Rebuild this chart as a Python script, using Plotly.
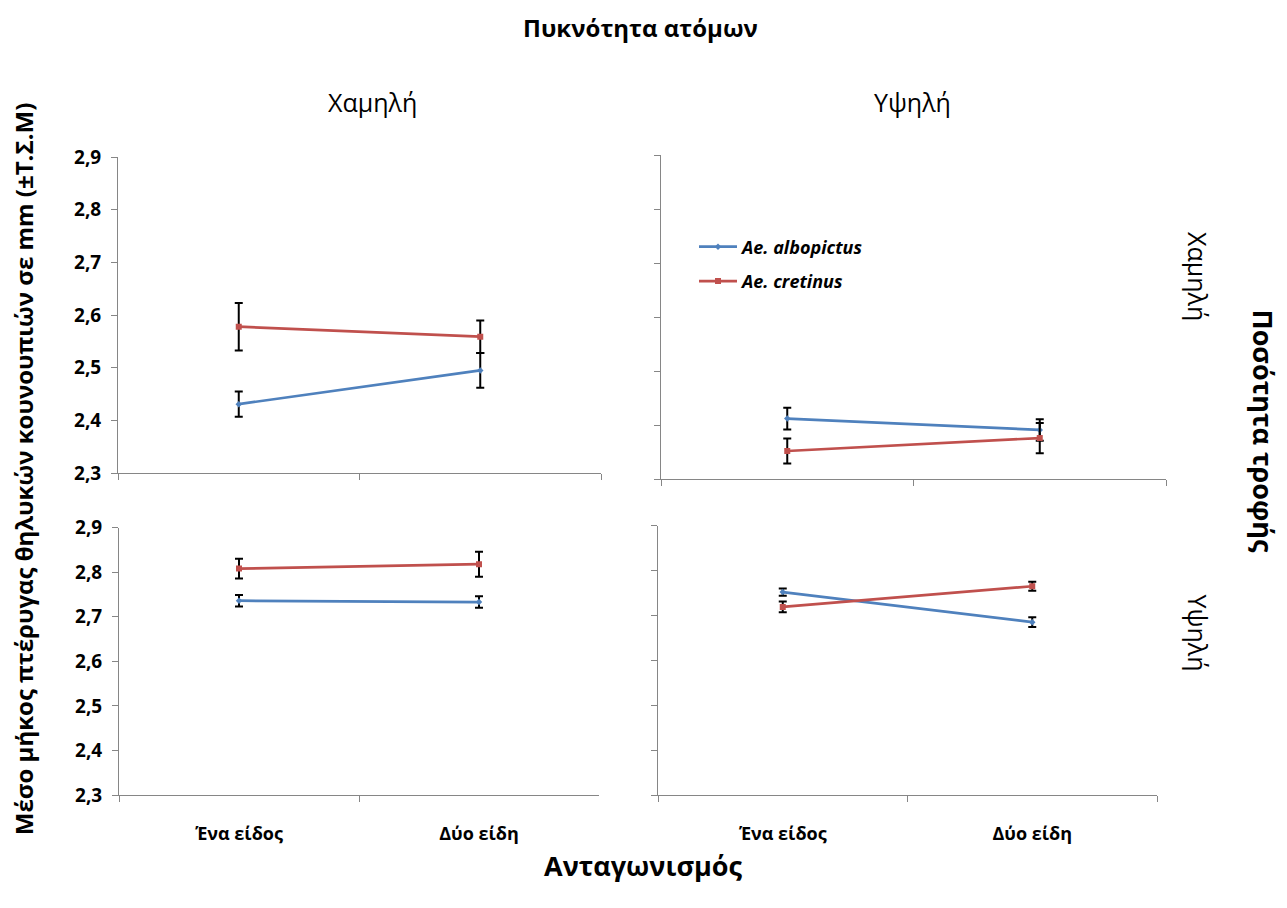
import plotly.graph_objects as go

# Competition treatment (x categories)
categories = ["Ένα είδος", "Δύο είδη"]

# Mean female wing length (mm) and SEM, per panel: (density, food)
# Panel keys: low density / low food, high density / low food,
#             low density / high food, high density / high food
albopictus_mean = {
    "LL": [2.431, 2.495],
    "HL": [2.412, 2.391],
    "LH": [2.736, 2.733],
    "HH": [2.752, 2.685],
}
albopictus_sem = {
    "LL": [0.024, 0.033],
    "HL": [0.020, 0.020],
    "LH": [0.013, 0.013],
    "HH": [0.008, 0.011],
}
cretinus_mean = {
    "LL": [2.578, 2.559],
    "HL": [2.352, 2.376],
    "LH": [2.808, 2.818],
    "HH": [2.719, 2.765],
}
cretinus_sem = {
    "LL": [0.045, 0.031],
    "HL": [0.023, 0.028],
    "LH": [0.022, 0.028],
    "HH": [0.012, 0.010],
}

y_ticks = [2.3, 2.4, 2.5, 2.6, 2.7, 2.8, 2.9]

W, H = 1287, 908
BLUE = "#4F81BD"
RED = "#C0504D"
AXIS = "#868686"
FONT = "Open Sans"

# vertical placement helper: the page is laid out slightly compressed
# vertically, so pixel targets are pre-scaled before converting to paper units
Y_SCALE, Y_OFF = 0.9806, 9.5


def fx(px):
    return px / W


def fy(py):
    design = (py - Y_OFF) / Y_SCALE
    return 1 - design / H


# panel boxes in pixels: (left, right, top, bottom)
panels = {
    "LL": ("x", "y", (118, 601, 155, 474)),
    "HL": ("x2", "y2", (661, 1166, 153, 480)),
    "LH": ("x3", "y3", (119, 599, 529, 799)),
    "HH": ("x4", "y4", (658, 1157, 527, 799)),
}

fig = go.Figure()

for key, (xa, ya, box) in panels.items():
    legend_on = key == "HL"
    fig.add_trace(go.Scatter(
        x=categories, y=albopictus_mean[key], xaxis=xa, yaxis=ya,
        mode="lines+markers", name="Ae. albopictus",
        line=dict(color=BLUE, width=2.7),
        marker=dict(symbol="diamond", size=5, color=BLUE),
        error_y=dict(type="data", array=albopictus_sem[key], color="black",
                     thickness=2, width=4),
        showlegend=legend_on, legendgroup="alb",
    ))
    fig.add_trace(go.Scatter(
        x=categories, y=cretinus_mean[key], xaxis=xa, yaxis=ya,
        mode="lines+markers", name="Ae. cretinus",
        line=dict(color=RED, width=2.7),
        marker=dict(symbol="square", size=6, color=RED),
        error_y=dict(type="data", array=cretinus_sem[key], color="black",
                     thickness=2, width=4),
        showlegend=legend_on, legendgroup="cre",
    ))

layout = dict(
    width=W, height=H,
    margin=dict(l=0, r=0, t=0, b=0),
    paper_bgcolor="white", plot_bgcolor="white",
    separators=",.",
    font=dict(family=FONT, color="black"),
    legend=dict(
        x=fx(694), y=fy(227), xanchor="left", yanchor="top",
        font=dict(family=FONT, size=18, weight="bold", style="italic", color="black"),
        bgcolor="rgba(0,0,0,0)", tracegroupgap=8, itemwidth=38,
    ),
)

for key, (xa, ya, (l, r, t, b)) in panels.items():
    xname = "xaxis" + xa[1:]
    yname = "yaxis" + ya[1:]
    bottom_row = key in ("LH", "HH")
    left_col = key in ("LL", "LH")
    layout[xname] = dict(
        domain=[fx(l), fx(r)], anchor=ya, type="category",
        categoryorder="array", categoryarray=categories,
        range=[-0.5, 1.5],
        showline=True, linecolor=AXIS, linewidth=1,
        ticks="outside", ticklen=6, tickcolor=AXIS, tickson="boundaries",
        showgrid=False, zeroline=False,
        showticklabels=bottom_row,
        tickfont=dict(family=FONT, size=18, weight="bold", color="black"),
        ticklabelstandoff=22,
    )
    layout[yname] = dict(
        domain=[fy(b), fy(t)], anchor=xa,
        range=[2.3, 2.9], tickvals=y_ticks, tickformat=".1f",
        showline=True, linecolor=AXIS, linewidth=1,
        ticks="outside", ticklen=6, tickcolor=AXIS,
        showgrid=False, zeroline=False,
        showticklabels=left_col,
        tickfont=dict(family=FONT, size=19, weight="bold", color="black"),
        ticklabelstandoff=6,
    )

fig.update_layout(**layout)

annotations = [
    dict(text="<b>Πυκνότητα ατόμων</b>", x=fx(640), y=fy(24), size=24, angle=0),
    dict(text="Χαμηλή", x=fx(372), y=fy(99), size=25, angle=0),
    dict(text="Υψηλή", x=fx(912), y=fy(99), size=25, angle=0),
    dict(text="Χαμηλή", x=fx(1198), y=fy(275), size=25, angle=90),
    dict(text="Υψηλή", x=fx(1198), y=fy(635), size=25, angle=90),
    dict(text="<b>Ποσότητα τροφής</b>", x=fx(1263), y=fy(432), size=27, angle=90),
    dict(text="<b>Μέσο μήκος πτέρυγας θηλυκών κουνουπιών σε mm (±Τ.Σ.Μ)</b>",
         x=fx(23), y=fy(470), size=24, angle=-90),
    dict(text="<b>Ανταγωνισμός</b>", x=fx(643), y=fy(870), size=27, angle=0),
]
for a in annotations:
    fig.add_annotation(
        text=a["text"], x=a["x"], y=a["y"], xref="paper", yref="paper",
        xanchor="center", yanchor="middle", showarrow=False,
        textangle=a["angle"],
        font=dict(family=FONT, size=a["size"], color="black"),
    )

fig.write_html("out.html")
